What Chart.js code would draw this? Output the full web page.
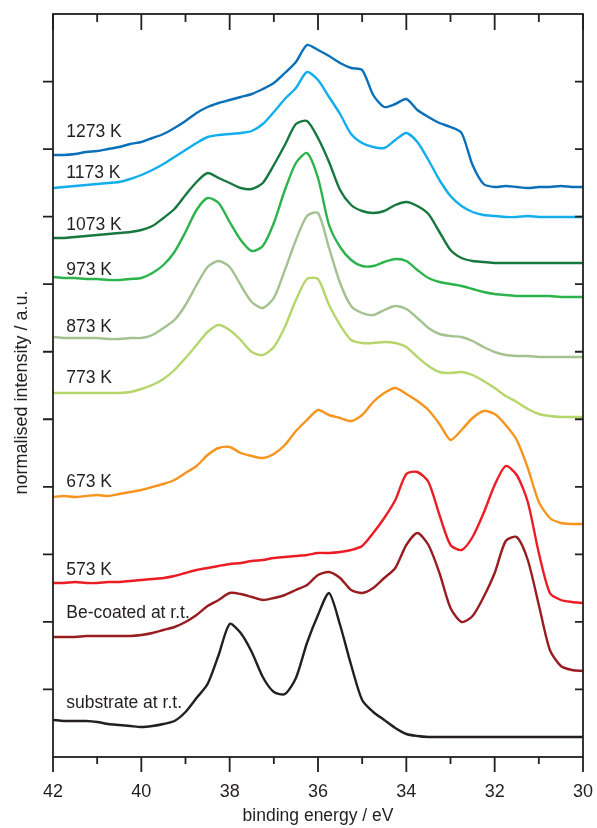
<!DOCTYPE html>
<html>
<head>
<meta charset="utf-8">
<script src="https://cdn.jsdelivr.net/npm/chart.js@4.4.1/dist/chart.umd.min.js"></script>
<style>
  html, body { margin: 0; padding: 0; background: #fff; }
</style>
</head>
<body>
<canvas id="grafico-espectros" width="597" height="828"></canvas>
<script>
// binding energy grid (eV), left to right on the reversed axis
const energias = [42.00, 41.75, 41.50, 41.25, 41.00, 40.75, 40.50, 40.25, 40.00, 39.75,
                  39.50, 39.25, 39.00, 38.75, 38.50, 38.25, 38.00, 37.75, 37.50, 37.25,
                  37.00, 36.75, 36.50, 36.25, 36.00, 35.75, 35.50, 35.25, 35.00, 34.75,
                  34.50, 34.25, 34.00, 33.75, 33.50, 33.25, 33.00, 32.75, 32.50, 32.25,
                  32.00, 31.75, 31.50, 31.25, 31.00, 30.75, 30.50, 30.25, 30.00];

// normalised intensity (a.u., spectra already offset)
const s1273 = [602,602,603,605,606,608,610,613,615,619, 623,629,636,644,650,654,657,660,663,668,
               674,684,695,712,707,701,694,689,687,662, 650,653,658,647,640,634,630,624,592,573,
               570,571,570,569,570,570,571,570,570];
const s1173 = [569,570,571,572,573,574,575,578,582,587, 593,600,607,614,620,622,623,624,626,633,
               645,658,669,685,677,660,643,623,614,610, 609,617,624,615,597,577,561,551,545,542,
               541,540,540,541,540,540,540,540,540];
const s1073 = [519,519,520,521,522,523,524,525,527,531, 539,548,562,575,584,579,574,569,568,574,
               592,612,633,636,619,595,567,552,546,544, 546,552,555,551,543,525,507,499,496,495,
               494,494,494,494,494,494,494,494,494];
const s973  = [480,479,479,478,478,477,477,478,479,484, 492,505,525,547,559,554,535,517,506,511,
               534,567,594,604,579,532,510,497,491,491, 495,498,496,487,479,475,473,471,468,465,
               463,462,461,461,461,461,460,460,460];
const s873  = [420,419,419,419,419,418,418,419,419,422, 429,437,452,472,490,496,490,472,455,449,
               459,487,517,541,544,509,474,451,444,442, 447,451,448,439,429,423,421,420,416,410,
               405,402,401,401,400,400,400,400,400];
const s773  = [364,364,364,364,364,364,364,365,368,372, 378,387,399,412,425,432,427,417,405,402,
               410,430,457,478,478,452,432,417,414,414, 415,414,410,400,391,385,384,385,382,376,
               369,361,355,348,343,341,340,340,340];
const s673  = [260,261,260,261,262,261,263,265,267,270, 273,277,284,291,302,309,310,304,301,299,
               303,312,326,337,347,342,339,336,342,355, 364,369,363,356,347,333,317,327,339,346,
               343,332,317,289,255,239,234,233,233];
const s573  = [174,174,175,174,174,175,175,176,177,178, 179,181,184,187,189,191,193,194,196,197,
               199,200,201,202,204,204,205,207,211,224, 239,257,283,285,275,242,212,207,220,244,
               272,291,282,255,204,164,157,155,154];
const sBe   = [120,120,120,121,121,121,121,121,122,124, 127,130,135,142,151,157,164,163,160,157,
               159,162,167,172,182,185,179,167,164,169, 179,189,212,224,212,184,149,135,141,160,
               184,216,220,197,152,107,91,87,86];
const sSub  = [37,36,36,36,35,33,32,31,30,31, 33,36,45,59,73,102,133,124,105,80,
               65,63,79,114,142,164,132,92,57,45, 37,29,23,21,20,20,20,20,20,20,
               20,20,20,20,20,20,20,20,20];

const series  = [s1273, s1173, s1073, s973, s873, s773, s673, s573, sBe, sSub];
const rotulos = ['1273 K', '1173 K', '1073 K', '973 K', '873 K', '773 K', '673 K', '573 K',
                 'Be-coated at r.t.', 'substrate at r.t.'];
const niveisRotulos = [620, 579, 527, 482, 425, 374, 270, 182, 139, 49];
const cores = ['#0a70b9', '#12aeec', '#16783f', '#2db34c', '#a3c290', '#b6d66c',
               '#f7941e', '#ec1c24', '#971d20', '#231f20'];

const xTicks = [42, 40, 38, 36, 34, 32, 30];
const xMinorTicks = [41, 39, 37, 35, 33, 31];
const yMax = 743, yDivisoes = 11;

const FONTE = '"Liberation Sans", Arial, sans-serif';
const TINTA = '#231f20';

const molduraPlugin = {
    id: 'moldura',
    afterDraw(chart) {
        const { ctx, chartArea: a, scales: { x, y } } = chart;
        ctx.save();
        ctx.strokeStyle = TINTA;
        ctx.lineWidth = 1.8;
        ctx.lineCap = 'butt';
        ctx.strokeRect(a.left, a.top, a.right - a.left, a.bottom - a.top);

        ctx.beginPath();
        xTicks.forEach(v => {
            const px = x.getPixelForValue(v);
            ctx.moveTo(px, a.bottom); ctx.lineTo(px, a.bottom + 15);
            ctx.moveTo(px, a.top); ctx.lineTo(px, a.top + 16);
        });
        xMinorTicks.forEach(v => {
            const px = x.getPixelForValue(v);
            ctx.moveTo(px, a.bottom); ctx.lineTo(px, a.bottom + 7);
            ctx.moveTo(px, a.top); ctx.lineTo(px, a.top + 8);
        });
        for (let k = 1; k < yDivisoes; k++) {
            const py = y.getPixelForValue(k * yMax / yDivisoes);
            ctx.moveTo(a.left - 10, py); ctx.lineTo(a.left, py);
            ctx.moveTo(a.right - 8, py); ctx.lineTo(a.right, py);
        }
        ctx.stroke();

        ctx.fillStyle = TINTA;
        ctx.font = `18px ${FONTE}`;
        ctx.textAlign = 'center';
        ctx.textBaseline = 'alphabetic';
        xTicks.forEach(v => ctx.fillText(String(v), x.getPixelForValue(v), a.bottom + 40));

        ctx.font = `17.5px ${FONTE}`;
        ctx.fillText('binding energy / eV', (a.left + a.right) / 2, a.bottom + 64);

        ctx.save();
        ctx.font = `18px ${FONTE}`;
        ctx.translate(27, (a.top + a.bottom) / 2 + 7);
        ctx.rotate(-Math.PI / 2);
        ctx.fillText('normalised intensity / a.u.', 0, 0);
        ctx.restore();

        ctx.textAlign = 'left';
        rotulos.forEach((r, i) => {
            ctx.fillText(r, x.getPixelForValue(41.7), y.getPixelForValue(niveisRotulos[i]));
        });
        ctx.restore();
    }
};

const datasets = series.map((s, i) => ({
    label: rotulos[i],
    data: energias.map((e, j) => ({ x: e, y: s[j] })),
    borderColor: cores[i],
    borderWidth: 2.4,
    pointRadius: 0,
    tension: 0.25,
    fill: false
}));

new Chart(document.getElementById('grafico-espectros').getContext('2d'), {
    type: 'line',
    data: { datasets },
    options: {
        responsive: false,
        animation: false,
        layout: { padding: { left: 53, right: 14, top: 14, bottom: 71 } },
        scales: {
            x: { type: 'linear', reverse: true, min: 30, max: 42, display: false },
            y: { type: 'linear', min: 0, max: yMax, display: false }
        },
        plugins: { legend: { display: false }, tooltip: { enabled: false } }
    },
    plugins: [molduraPlugin]
});
</script>
</body>
</html>
